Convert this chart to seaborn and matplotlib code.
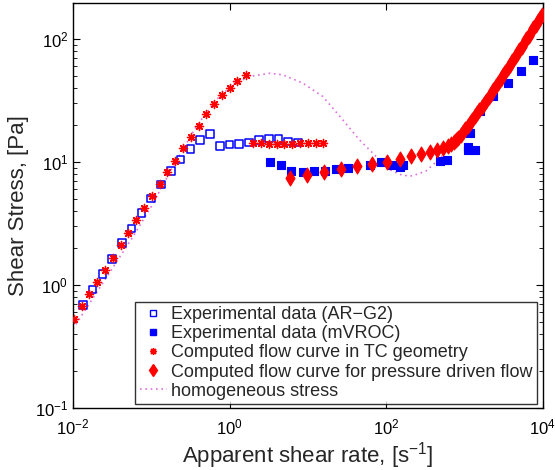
import numpy as np
import pandas as pd
import matplotlib
matplotlib.use("Agg")
import matplotlib.pyplot as plt
from matplotlib.lines import Line2D
import seaborn as sns
from matplotlib.ticker import LogLocator, NullLocator, NullFormatter

# ---------------- data ----------------
# Experimental data (AR-G2), open blue squares
arg2_rate = [0.0135, 0.0178, 0.0237, 0.0316, 0.0422, 0.0562, 0.0750, 0.100,
             0.133, 0.178, 0.237, 0.316, 0.422, 0.562, 0.750, 1.00, 1.33,
             1.78, 2.37, 3.16, 4.22, 5.62, 7.50]
arg2_stress = [0.685, 0.916, 1.23, 1.63, 2.19, 2.88, 3.83, 5.04, 6.54, 8.43,
               10.5, 12.7, 15.0, 16.9, 13.5, 13.9, 14.0, 14.4, 15.0, 15.5,
               15.3, 14.7, 14.4]

# Experimental data (mVROC), filled blue squares
mvroc_rate = [3.24, 4.47, 6.11, 8.59, 11.9, 16.6, 22.9, 32.1, 61.3, 85.5,
              118, 149, 163, 483, 598, 1099, 1099, 1361, 1175, 1575, 2328,
              3550, 5290, 7600]
mvroc_stress = [9.96, 9.42, 8.49, 8.22, 8.38, 8.49, 8.69, 8.97, 9.42, 10.0,
                9.37, 9.02, 9.49, 10.1, 10.4, 13.2, 12.4, 12.6, 17.2, 25.8,
                34.1, 43.8, 55.3, 67.3]

# Computed flow curve in TC geometry, red asterisks
tc_rate = [0.0102, 0.0129, 0.0161, 0.0202, 0.0256, 0.0321, 0.0406, 0.0506,
           0.0640, 0.0809, 0.101, 0.128, 0.161, 0.203, 0.254, 0.318, 0.403,
           0.505, 0.638, 0.798, 1.00, 1.26, 1.60,
           2.00, 2.51, 3.16, 3.98, 5.01, 6.31, 7.94, 10.0, 12.6, 15.8]
tc_stress = [0.533, 0.676, 0.841, 1.06, 1.33, 1.66, 2.12, 2.64, 3.36, 4.20,
             5.26, 6.57, 8.26, 10.2, 12.9, 15.9, 19.5, 24.4, 29.6, 34.8,
             40.1, 45.4, 50.5,
             14.3, 14.3, 14.1, 14.1, 14.1, 14.1, 14.2, 14.2, 14.2, 14.2]

# Computed flow curve for pressure driven flow, red diamonds
pd_rate = [5.93, 9.66, 16.1, 26.2, 42.4, 66.8, 102, 149, 210, 282, 364, 447,
           527, 617, 676, 724, 776, 832, 891, 955, 1023, 1096, 1175, 1259,
           1349, 1445, 1549, 1660, 1778, 1905, 2042, 2188, 2344, 2512, 2692,
           2884, 3090, 3311, 3548, 3802, 4074, 4365, 4677, 5012, 5370, 5754,
           6166, 6607, 7079, 7586, 8128, 8710, 9333, 9772]
pd_stress = [7.35, 7.82, 8.27, 8.69, 9.20, 9.67, 10.0, 10.6, 11.1, 11.6, 12.0,
             12.4, 12.9, 13.6, 14.1, 14.6, 15.1, 15.8, 16.6, 17.5, 18.5,
             19.6, 20.8, 22.1, 23.6, 25.0, 26.4, 28.0, 29.5, 31.4, 33.6,
             35.9, 38.5, 41.2, 44.1, 47.1, 50.5, 54.0, 57.8, 61.8, 66.1,
             70.8, 75.7, 81.1, 86.7, 92.7, 99.3, 106, 114, 122, 130, 139,
             149, 156]

# Homogeneous stress, dotted line
hom_rate = [0.0100, 0.0586, 0.101, 0.190, 0.377, 0.676, 1.10, 1.80, 3.24,
            4.78, 8.59, 15.5, 27.7, 45.3, 74.0, 109, 161, 216, 321, 473,
            635, 800, 1100, 2000, 4000, 9772]
hom_stress = [0.440, 2.48, 4.39, 9.25, 19.5, 32.1, 42.4, 49.5, 52.6, 51.1,
              43.8, 34.1, 22.1, 15.2, 11.1, 8.69, 7.78, 7.70, 8.43, 10.5,
              13.0, 14.9, 19.6, 32.0, 63.0, 156]

labels = ["Experimental data (AR\u2212G2)", "Experimental data (mVROC)",
          "Computed flow curve in TC geometry",
          "Computed flow curve for pressure driven flow",
          "homogeneous stress"]

# ---------------- figure ----------------
sns.set_theme(style="white")
plt.rcParams["font.family"] = ["Liberation Sans", "DejaVu Sans"]
plt.rcParams["mathtext.fontset"] = "custom"
plt.rcParams["mathtext.rm"] = "Liberation Sans"
plt.rcParams["mathtext.it"] = "Liberation Sans"

fig = plt.figure(figsize=(5.55, 4.70), dpi=100)
ax = fig.add_axes([0.1315, 0.132, 0.8465, 0.8616])

blue = "#0000ff"
red = "#ff0000"
violet = "#dd70dd"
dots = (0, (1, 2.2))
asterisk = (8, 2, 0)

df_hom = pd.DataFrame({"x": hom_rate, "y": hom_stress})
sns.lineplot(data=df_hom, x="x", y="y", ax=ax, color=violet, linestyle=dots,
             linewidth=1.2, sort=False, legend=False, zorder=1)

df_a = pd.DataFrame({"x": arg2_rate, "y": arg2_stress})
sns.scatterplot(data=df_a, x="x", y="y", ax=ax, marker="s", s=30,
                facecolor="none", edgecolor=blue, linewidth=1.1,
                legend=False, zorder=2)

df_m = pd.DataFrame({"x": mvroc_rate, "y": mvroc_stress})
sns.scatterplot(data=df_m, x="x", y="y", ax=ax, marker="s", s=30,
                color=blue, edgecolor=blue, linewidth=0.8,
                legend=False, zorder=2)

df_t = pd.DataFrame({"x": tc_rate, "y": tc_stress})
sns.scatterplot(data=df_t, x="x", y="y", ax=ax, marker=asterisk, s=34,
                color=red, edgecolor=red, linewidth=1.0,
                legend=False, zorder=3)

df_p = pd.DataFrame({"x": pd_rate, "y": pd_stress})
sns.scatterplot(data=df_p, x="x", y="y", ax=ax, marker="d", s=58,
                color=red, edgecolor=red, linewidth=0.8,
                legend=False, zorder=3)

ax.set_xscale("log")
ax.set_yscale("log")
ax.set_xlim(1e-2, 1e4)
ax.set_ylim(1e-1, 196)

ax.set_xticks([1e-2, 1e0, 1e2, 1e4])
ax.xaxis.set_minor_locator(NullLocator())
ax.set_yticks([1e-1, 1e0, 1e1, 1e2])
ax.yaxis.set_minor_locator(LogLocator(base=10, subs=np.arange(2, 10)))
ax.yaxis.set_minor_formatter(NullFormatter())

ax.tick_params(which="both", direction="in", top=True, right=True,
               bottom=True, left=True, colors="black", labelsize=12)
ax.tick_params(which="major", length=5, width=0.8)
ax.tick_params(which="minor", length=3, width=0.6)
ax.tick_params(axis="x", pad=7)
for s in ax.spines.values():
    s.set_color("black")
    s.set_linewidth(1.0)

ax.set_xlabel("Apparent shear rate, [s$^{-1}$]", fontsize=16, labelpad=2)
ax.set_ylabel("Shear Stress, [Pa]", fontsize=16, labelpad=4)

handles = [
    Line2D([], [], linestyle="none", marker="s", markersize=4.5,
           markerfacecolor="none", markeredgecolor=blue, markeredgewidth=1.0),
    Line2D([], [], linestyle="none", marker="s", markersize=4.5,
           markerfacecolor=blue, markeredgecolor=blue),
    Line2D([], [], linestyle="none", marker=asterisk, markersize=5,
           color=red, markeredgewidth=1.0),
    Line2D([], [], linestyle="none", marker="d", markersize=6,
           color=red),
    Line2D([], [], color=violet, linestyle=dots, linewidth=1.2),
]
leg = ax.legend(handles, labels, loc="lower right",
                bbox_to_anchor=(0.9887, 0.0091), fontsize=13,
                frameon=True, fancybox=False, edgecolor="black",
                borderpad=0.25, labelspacing=0.12, handlelength=1.5,
                handletextpad=0.25, borderaxespad=0.0)
leg.get_frame().set_linewidth(1.0)

fig.savefig("out.png", dpi=100)
